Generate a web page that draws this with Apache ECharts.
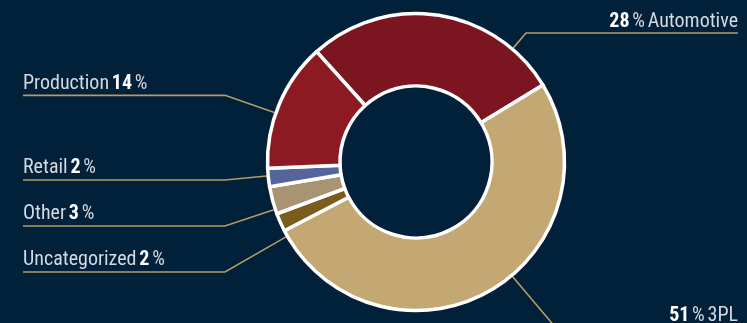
<!DOCTYPE html>
<html>
<head>
<meta charset="utf-8">
<script src="https://cdn.jsdelivr.net/npm/echarts@6/dist/echarts.min.js"></script>
<style>
html,body{margin:0;padding:0;background:#01203a;}
#chart{width:747px;height:323px;}
</style>
</head>
<body>
<div id="chart"></div>
<script>
// ---- data ----
const categories = ['Automotive', '3PL', 'Uncategorized', 'Other', 'Retail', 'Production'];
const values = [28, 51, 2, 3, 2, 14];

// ---- style ----
const colors = ['#7b1621', '#c4a873', '#7a5c1c', '#a89473', '#55649a', '#8d1922'];
const FONT = '"Roboto Condensed", "DejaVu Sans Condensed", sans-serif';
const FS = 20;
const CX = 416, CY = 162, TOP = 10;
const R_IN = 76, R_OUT = 148.5, R_VIS = 150;
const START = 132;
const TICK_LEFT = 202;
const TICK_RIGHT = { 'Automotive': 212, '3PL': 182 };
const LINE_LEN_OVERRIDE = { '3PL': 42 };

const total = values.reduce((a, b) => a + b, 0);
// side of each label (left / right) from the slice mid angle
const isLeftSide = {};
let acc = 0;
categories.forEach((c, i) => {
  const mid = (START - (acc + values[i] / 2) / total * 360) * Math.PI / 180;
  isLeftSide[c] = Math.cos(mid) < 0;
  acc += values[i];
});

const data = categories.map((c, i) => {
  const d = { name: c, value: values[i], itemStyle: { color: colors[i] } };
  if (LINE_LEN_OVERRIDE[c] !== undefined) d.labelLine = { length: LINE_LEN_OVERRIDE[c] };
  return d;
});

const chart = echarts.init(document.getElementById('chart'), null, { renderer: 'canvas' });

const option = {
  backgroundColor: '#01203a',
  animation: false,
  series: [{
    type: 'pie',
    left: 0, right: -14, top: TOP, bottom: -100,
    center: [CX, CY - TOP],
    radius: [R_IN, R_OUT],
    startAngle: START,
    clockwise: true,
    avoidLabelOverlap: true,
    emphasis: { disabled: true },
    itemStyle: { borderColor: '#ffffff', borderWidth: 3.5 },
    label: {
      show: true,
      position: 'outside',
      alignTo: 'edge',
      edgeDistance: 23,
      padding: [0, 0, 23, 0],
      lineHeight: 21,
      fontFamily: FONT,
      formatter: function (p) {
        return isLeftSide[p.name]
          ? '{n|' + p.name + '} {v|' + p.value + '} {p|%}'
          : '{v|' + p.value + '} {p|%} {n|' + p.name + '}';
      },
      rich: {
        n: { fontFamily: FONT, fontSize: FS, color: '#d5dae0', lineHeight: 21 },
        v: { fontFamily: FONT, fontSize: FS, fontWeight: 'bold', color: '#ffffff', lineHeight: 21 },
        p: { fontFamily: FONT, fontSize: FS, color: '#d5dae0', lineHeight: 21 }
      }
    },
    labelLine: {
      show: true,
      length: 23.5,
      length2: 0,
      smooth: false,
      lineStyle: { color: '#b59c62', width: 1.6 }
    },
    labelLayout: function (params) {
      const pts = params.labelLinePoints;
      if (!pts) return {};
      const r = params.labelRect;
      const name = categories[params.dataIndex];
      const left = isLeftSide[name];
      const y = pts[2][1];
      const outerX = left ? r.x : r.x + r.width;
      const innerX = left ? r.x + TICK_LEFT : r.x + r.width - TICK_RIGHT[name];
      const dx = innerX - CX, dy = y - CY;
      const d = Math.sqrt(dx * dx + dy * dy);
      const start = [CX + dx / d * R_VIS, CY + dy / d * R_VIS];
      return { labelLinePoints: [start, [innerX, y], [outerX, y]] };
    },
    data: data
  }]
};
chart.setOption(option);
</script>
</body>
</html>
